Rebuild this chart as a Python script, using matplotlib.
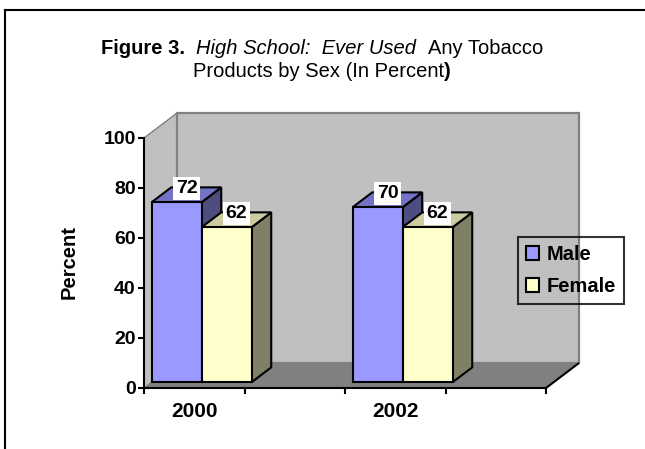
import matplotlib
matplotlib.use("Agg")
import matplotlib.pyplot as plt
from matplotlib.patches import Polygon, Patch
from matplotlib.lines import Line2D

# ---- data ----
years = ["2000", "2002"]
male = [72, 70]
female = [62, 62]
series_names = ["Male", "Female"]
y_ticks = [0, 20, 40, 60, 80, 100]

# ---- styling ----
front_colors = ["#9999FF", "#FFFFCC"]
top_colors = ["#7373C6", "#CCCCA3"]
side_colors = ["#4D4D80", "#808066"]
wall_color = "#C0C0C0"
floor_color = "#808080"
edge_gray = "#808080"

plt.rcParams['font.family'] = ['Liberation Sans', 'DejaVu Sans']

W, H = 645, 449
fig = plt.figure(figsize=(W / 100, H / 100), dpi=100)

# front plane of the plot box, in pixels
L, R, T, B = 144, 546, 138, 388
ax = fig.add_axes([L / W, 1 - B / H, (R - L) / W, (B - T) / H])
n_slots = 4
ax.set_xlim(0, n_slots)
ax.set_ylim(0, 100)
ax.set_facecolor("none")

px_x = (R - L) / n_slots      # pixels per x unit
px_y = (B - T) / 100          # pixels per y unit
DX = 33 / px_x                # depth of the box
DY = 25 / px_y
f0, fd = 0.235, 0.59          # bar plane offset and bar depth (fractions of box depth)

# walls and floor
ax.add_patch(Polygon([(0, 0), (0, 100), (DX, 100 + DY), (DX, DY)], closed=True,
                     fc=wall_color, ec=edge_gray, lw=1.0, clip_on=False, zorder=0.5))
ax.add_patch(Polygon([(DX, DY), (n_slots + DX, DY), (n_slots + DX, 100 + DY), (DX, 100 + DY)],
                     closed=True, fc=wall_color, ec=edge_gray, lw=1.6, clip_on=False, zorder=0.6))
ax.add_patch(Polygon([(0, 0), (n_slots, 0), (n_slots + DX, DY), (DX, DY)], closed=True,
                     fc=floor_color, ec="none", clip_on=False, zorder=0.7))
ax.plot([n_slots, n_slots + DX], [0, DY], color="black", lw=1.5, clip_on=False, zorder=0.8,
        solid_capstyle="butt")

# 3D bars
bar_w = 0.4975
ddx, ddy = fd * DX, fd * DY
x_off, y_off = f0 * DX, f0 * DY
z = 3.0
for i, year in enumerate(years):
    slot = 2 * i
    for j, vals in enumerate([male, female]):
        v = vals[i]
        xl = slot + x_off + j * bar_w
        xr = xl + bar_w
        yt = y_off + v
        ax.add_patch(Polygon([(xr, y_off), (xr, yt), (xr + ddx, yt + ddy), (xr + ddx, y_off + ddy)],
                             closed=True, fc=side_colors[j], ec="black", lw=1.5,
                             joinstyle="miter", clip_on=False, zorder=z))
        ax.add_patch(Polygon([(xl, yt), (xr, yt), (xr + ddx, yt + ddy), (xl + ddx, yt + ddy)],
                             closed=True, fc=top_colors[j], ec="black", lw=1.5,
                             joinstyle="miter", clip_on=False, zorder=z + 0.01))
        ax.bar(xl, v, width=bar_w, bottom=y_off, align="edge", color=front_colors[j],
               edgecolor="black", linewidth=1.5, zorder=z + 0.02, clip_on=False)
        ax.annotate(str(v), xy=(xl + bar_w / 2 + ddx / 2, yt + ddy / 2),
                    xytext=(0, 4.5), textcoords="offset points", ha="center", va="center",
                    fontsize=14, fontweight="bold", zorder=10,
                    bbox=dict(boxstyle="square,pad=0.15", fc="white", ec="none"))
        z += 0.1

# axes lines and ticks
for s in ["top", "right"]:
    ax.spines[s].set_visible(False)
for s in ["left", "bottom"]:
    ax.spines[s].set_linewidth(1.5)
    ax.spines[s].set_zorder(2)
ax.set_yticks(y_ticks)
ax.set_yticklabels([str(t) for t in y_ticks], fontsize=14, fontweight="bold")
ax.tick_params(axis="y", length=4.5, width=1.5, pad=1.5)
ax.set_xticks(range(n_slots + 1))
ax.set_xticklabels([])
ax.tick_params(axis="x", which="major", length=4.5, width=1.5)
ax.set_xticks([2 * i + 0.5 for i in range(len(years))], minor=True)
ax.set_xticklabels(years, minor=True, fontsize=15, fontweight="bold")
ax.tick_params(axis="x", which="minor", length=0, pad=10)

fig.text(69 / W, 1 - 262 / H, "Percent", rotation=90, ha="center", va="center",
         fontsize=14.5, fontweight="bold")

# legend
handles = [Patch(fc=front_colors[k], ec="black", lw=1.5) for k in range(2)]
leg = fig.legend(handles, series_names, loc="upper left", bbox_to_anchor=(518 / W, 1 - 237 / H),
                 frameon=True, fancybox=False, edgecolor="black", facecolor="none",
                 prop=dict(size=14.5, weight="bold"), handlelength=0.65, handleheight=0.65,
                 handletextpad=0.35, labelspacing=0.65, borderpad=0.4, borderaxespad=0)
leg.get_frame().set_linewidth(1.5)

# outer frame
fig.add_artist(Line2D([5 / W, 5 / W], [0, 1 - 10 / H], color="black", lw=1.5,
                      transform=fig.transFigure))
fig.add_artist(Line2D([5 / W, 1], [1 - 10 / H, 1 - 10 / H], color="black", lw=1.5,
                      transform=fig.transFigure))

# title with mixed font styles
title_size = 14.5
space_px = title_size * 100 / 72 * 0.278
renderer = fig.canvas.get_renderer()


def styled_line(pieces, y_px, cx_px):
    texts, widths = [], []
    for s, style, gap in pieces:
        t = fig.text(0, 1 - y_px / H, s, fontsize=title_size, va="baseline", ha="left", **style)
        texts.append(t)
        widths.append(t.get_window_extent(renderer).width + gap * space_px)
    x = cx_px - sum(widths) / 2
    for t, w in zip(texts, widths):
        t.set_x(x / W)
        x += w


styled_line([("Figure 3.", dict(fontweight="bold"), 2),
             ("High School:  Ever Used", dict(fontstyle="italic"), 2),
             ("Any Tobacco", dict(), 0)], 54, 322)
styled_line([("Products by Sex (In Percent", dict(), 0),
             (")", dict(fontweight="bold"), 0)], 77, 322)

fig.savefig("out.png", dpi=100)
